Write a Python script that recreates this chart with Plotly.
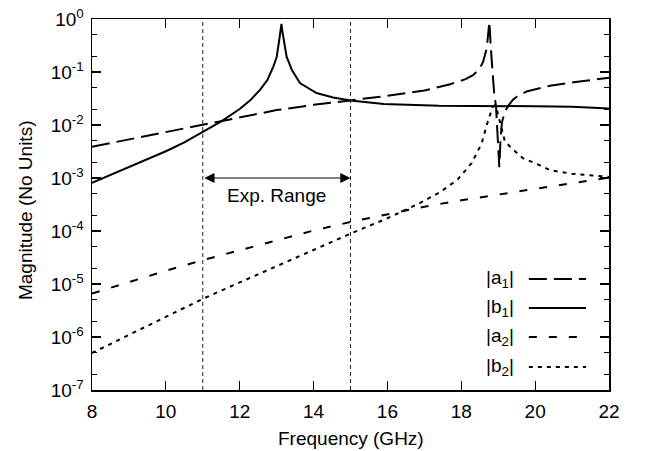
import numpy as np
import plotly.graph_objects as go

# ---------------- data ----------------
f_a1 = [8.0, 9.0, 10.0, 11.0, 12.0, 13.0, 14.0, 15.0, 16.0, 17.0, 17.7, 18.1, 18.32, 18.5,
        18.59, 18.69, 18.76, 18.8, 18.84, 18.89, 18.94, 18.99, 19.03, 19.06, 19.1, 19.18,
        19.27, 19.4, 19.5, 19.77, 20.4, 21.2, 22.0]
a1 = [3.89e-3, 5.37e-3, 7.41e-3, 1.00e-2, 1.41e-2, 1.91e-2, 2.40e-2, 2.88e-2, 3.55e-2, 4.47e-2,
      5.89e-2, 7.24e-2, 8.71e-2, 0.117, 0.155, 0.282, 0.891, 0.282, 0.100, 0.040, 0.0224,
      6.3e-3, 1.6e-3, 5.0e-3, 1.12e-2, 1.78e-2, 2.29e-2, 3.0e-2, 3.4e-2, 4.3e-2, 5.5e-2,
      6.6e-2, 7.8e-2]

f_b1 = [8.0, 9.0, 9.5, 10.0, 10.5, 11.0, 11.5, 12.0, 12.3, 12.55, 12.75, 12.91, 13.0, 13.07,
        13.1, 13.13, 13.16, 13.2, 13.27, 13.41, 13.63, 14.08, 14.53, 15.0, 15.9, 17.4, 19.0,
        20.0, 21.0, 21.5, 22.0]
b1 = [8.1e-4, 1.6e-3, 2.2e-3, 3.2e-3, 4.7e-3, 7.4e-3, 1.17e-2, 2.0e-2, 3.0e-2, 4.6e-2, 7.1e-2,
      0.126, 0.19, 0.40, 0.56, 0.81, 0.56, 0.38, 0.195, 0.11, 0.062, 0.040, 0.033, 0.029,
      0.025, 0.023, 0.023, 0.0226, 0.0221, 0.0214, 0.0204]

f_a2 = [8.0, 9.0, 10.0, 11.0, 12.0, 13.0, 14.0, 15.0, 16.0, 17.0, 18.0, 19.0, 20.0, 21.0, 22.0]
a2 = [6.6e-6, 1.10e-5, 1.78e-5, 2.82e-5, 4.37e-5, 6.76e-5, 1.02e-4, 1.48e-4, 2.09e-4, 2.88e-4,
      3.80e-4, 4.90e-4, 6.31e-4, 8.13e-4, 1.02e-3]

f_b2 = [8.0, 9.0, 10.0, 11.0, 12.0, 13.0, 14.0, 15.0, 16.0, 16.8, 17.42, 17.9, 18.28, 18.55,
        18.69, 18.78, 18.85, 18.9, 18.96, 19.03, 19.1, 19.18, 19.41, 19.68, 20.0, 20.4, 21.0,
        21.5, 22.0]
b2 = [5.0e-7, 1.10e-6, 2.40e-6, 5.25e-6, 1.07e-5, 2.19e-5, 4.47e-5, 8.91e-5, 1.74e-4, 3.16e-4,
      5.37e-4, 9.33e-4, 1.91e-3, 4.47e-3, 1.00e-2, 1.66e-2, 2.19e-2, 2.34e-2, 2.0e-2, 1.26e-2,
      7.94e-3, 4.90e-3, 3.39e-3, 2.34e-3, 1.91e-3, 1.41e-3, 1.20e-3, 1.12e-3, 1.05e-3]

series_names = ["|a<sub>1</sub>|", "|b<sub>1</sub>|", "|a<sub>2</sub>|", "|b<sub>2</sub>|"]
x_ticks = [8, 10, 12, 14, 16, 18, 20, 22]
y_tickvals = [1e-7, 1e-6, 1e-5, 1e-4, 1e-3, 1e-2, 1e-1, 1e0]
y_ticktext = ["10<sup>-7</sup>", "10<sup>-6</sup>", "10<sup>-5</sup>", "10<sup>-4</sup>",
              "10<sup>-3</sup>", "10<sup>-2</sup>", "10<sup>-1</sup>", "10<sup>0</sup>"]
exp_range = [11, 15]
arrow_level = 1e-3
range_label = "Exp. Range"

# ---------------- styling ----------------
FONT = "Liberation Sans, Arial, Helvetica, sans-serif"
FS = 19
dashes = ["18px,7px", "solid", "8px,12px", "4px,5px"]
widths = [2.0, 2.0, 2.0, 2.0]

fig = go.Figure()
for fx, fy, d, w in zip([f_a1, f_b1, f_a2, f_b2], [a1, b1, a2, b2], dashes, widths):
    fig.add_trace(go.Scatter(x=fx, y=fy, mode="lines",
                             line=dict(color="black", width=w, dash=d),
                             showlegend=False, hoverinfo="skip"))

# experimental range vertical lines
for xv in exp_range:
    fig.add_shape(type="line", x0=xv, x1=xv, y0=0, y1=1, xref="x", yref="paper",
                  line=dict(color="#222", width=1, dash="4px,3px"))

# double arrow
fig.add_annotation(x=exp_range[1], y=np.log10(arrow_level), ax=exp_range[0],
                   ay=np.log10(arrow_level), xref="x", yref="y", axref="x", ayref="y",
                   text="", showarrow=True, arrowhead=2, startarrowhead=2,
                   arrowside="end+start", arrowsize=1.7, startarrowsize=1.7,
                   arrowwidth=1.2, arrowcolor="black")
fig.add_annotation(x=sum(exp_range) / 2, y=np.log10(arrow_level) - 0.33, xref="x", yref="y",
                   text=range_label, showarrow=False, font=dict(family=FONT, size=FS, color="black"))

# custom legend (text left, sample right, like gnuplot)
leg_y = [0.299, 0.221, 0.143, 0.062]
for name, yy, d, w in zip(series_names, leg_y, dashes, widths):
    fig.add_annotation(x=0.82, y=yy, xref="paper", yref="paper", text=name, showarrow=False,
                       xanchor="right", yanchor="middle",
                       font=dict(family=FONT, size=FS, color="black"))
    fig.add_shape(type="line", x0=0.845, x1=0.9555, y0=yy, y1=yy, xref="paper", yref="paper",
                  line=dict(color="black", width=w, dash=d))

# axis titles
fig.add_annotation(x=0.5, y=-0.132, xref="paper", yref="paper", text="Frequency (GHz)",
                   showarrow=False, xanchor="center", yanchor="middle",
                   font=dict(family=FONT, size=FS, color="black"))
fig.add_annotation(x=-0.1296, y=0.485, xref="paper", yref="paper", text="Magnitude (No Units)",
                   showarrow=False, textangle=-90, xanchor="center", yanchor="middle",
                   font=dict(family=FONT, size=FS, color="black"))

fig.update_layout(
    width=645, height=451,
    margin=dict(l=92, r=36, t=19, b=61, autoexpand=False),
    paper_bgcolor="white", plot_bgcolor="white",
    font=dict(family=FONT, size=FS, color="black"),
    showlegend=False,
    xaxis=dict(range=[8, 22], tickmode="array", tickvals=x_ticks, ticks="inside", ticklen=9,
               tickwidth=1.2, tickcolor="black", showline=True, linecolor="black", linewidth=1.5,
               mirror="ticks", showgrid=False, zeroline=False, automargin=False,
               ticklabelstandoff=4,
               tickfont=dict(family=FONT, size=FS, color="black")),
    yaxis=dict(type="log", range=[-7, 0], tickmode="array", tickvals=y_tickvals,
               ticktext=y_ticktext, ticks="inside", ticklen=9, tickwidth=1.2, tickcolor="black",
               showline=True, linecolor="black", linewidth=1.5, mirror="ticks", showgrid=False,
               zeroline=False, automargin=False, ticklabelstandoff=3,
               tickfont=dict(family=FONT, size=FS, color="black"),
               minor=dict(ticks="inside", ticklen=5, tickwidth=1, tickcolor="black",
                          dtick="D2", showgrid=False)),
)

fig.write_html("out.html", config={"displayModeBar": False, "staticPlot": True},
               post_script="document.body.style.margin='0';document.body.style.overflow='hidden';")
